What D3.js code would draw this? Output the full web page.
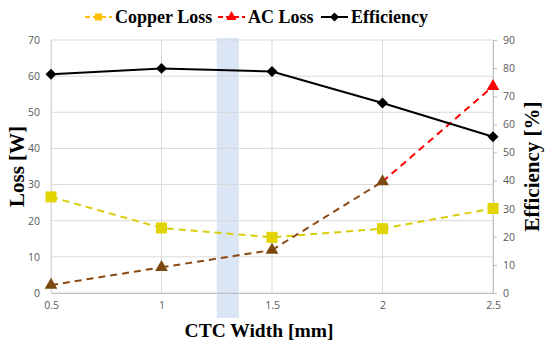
<!DOCTYPE html>
<html>
<head>
<meta charset="utf-8">
<script src="https://cdn.jsdelivr.net/npm/d3@7"></script>
<style>
  body { margin: 0; background: #fff; }
  svg { display: block; }
</style>
</head>
<body>
<svg id="chart"></svg>
<script>
// data
const widths = [0.5, 1, 1.5, 2, 2.5];
const copperLoss = [26.6, 18.0, 15.4, 17.8, 23.4];
const acLoss = [2.2, 7.1, 11.9, 30.8, 57.2];
const efficiency = [77.8, 79.9, 78.8, 67.6, 55.6];
const lossTicks = [0, 10, 20, 30, 40, 50, 60, 70];
const effTicks = [0, 10, 20, 30, 40, 50, 60, 70, 80, 90];
const xTicks = [0.5, 1, 1.5, 2, 2.5];
const band = [1.25, 1.35];

const W = 550, H = 348;
const margin = { top: 40, right: 57, bottom: 55, left: 51 };
const width = W - margin.left - margin.right;
const height = H - margin.top - margin.bottom;

const svg = d3.select("#chart").attr("width", W).attr("height", H);
const g = svg.append("g").attr("transform", `translate(${margin.left},${margin.top})`);

const x = d3.scaleLinear().domain([0.5, 2.5]).range([0, width]);
const yL = d3.scaleLinear().domain([0, 70]).range([height, 0]);
const yR = d3.scaleLinear().domain([0, 90]).range([height, 0]);

// highlighted band
g.append("rect")
    .attr("x", x(band[0]))
    .attr("y", -2)
    .attr("width", x(band[1]) - x(band[0]))
    .attr("height", height + 27)
    .attr("fill", "#dae5f6");

// grid
g.append("g")
    .selectAll("line")
    .data(lossTicks)
    .join("line")
    .attr("x1", 0).attr("x2", width)
    .attr("y1", d => yL(d)).attr("y2", d => yL(d))
    .attr("stroke", "#d9d9d9");

g.append("g")
    .selectAll("line")
    .data(xTicks)
    .join("line")
    .attr("x1", d => x(d)).attr("x2", d => x(d))
    .attr("y1", 0).attr("y2", height)
    .attr("stroke", "#d9d9d9");

// axes
const tickFont = "'Open Sans', 'DejaVu Sans', sans-serif";

const xAxis = g.append("g")
    .attr("transform", `translate(0,${height})`)
    .call(d3.axisBottom(x).tickValues(xTicks).tickSize(0).tickPadding(9).tickFormat(d3.format("")));

const leftAxis = g.append("g")
    .call(d3.axisLeft(yL).tickValues(lossTicks).tickSize(0).tickPadding(11));

const rightAxis = g.append("g")
    .attr("transform", `translate(${width},0)`)
    .call(d3.axisRight(yR).tickValues(effTicks).tickSize(4).tickPadding(6));

[xAxis, leftAxis, rightAxis].forEach(a => {
    a.select(".domain").attr("stroke", "#bfbfbf");
    a.selectAll(".tick line").attr("stroke", "#bfbfbf");
    a.selectAll("text")
        .attr("fill", "#595959")
        .style("font-family", tickFont)
        .style("font-size", "10.5px");
});
leftAxis.select(".domain").attr("stroke", "#d9d9d9");

// lines
const lineL = d3.line().x((d, i) => x(widths[i])).y(d => yL(d));
const lineR = d3.line().x((d, i) => x(widths[i])).y(d => yR(d));

const copperColor = "#d8cf0a";
const acBrown = "#8b4a14";
const acRed = "#ff0000";

g.append("path")
    .datum(copperLoss)
    .attr("d", lineL)
    .attr("fill", "none")
    .attr("stroke", copperColor)
    .attr("stroke-width", 2)
    .attr("stroke-dasharray", "7,5");

// AC loss: brown up to 2 mm, red after
const acSegs = acLoss.slice(0, -1).map((d, i) => ({ a: i, b: i + 1 }));
g.append("g")
    .selectAll("line")
    .data(acSegs)
    .join("line")
    .attr("x1", d => x(widths[d.a])).attr("y1", d => yL(acLoss[d.a]))
    .attr("x2", d => x(widths[d.b])).attr("y2", d => yL(acLoss[d.b]))
    .attr("stroke", d => d.b === acLoss.length - 1 ? acRed : acBrown)
    .attr("stroke-width", 2)
    .attr("stroke-dasharray", "7,5");

g.append("path")
    .datum(efficiency)
    .attr("d", lineR)
    .attr("fill", "none")
    .attr("stroke", "#000")
    .attr("stroke-width", 2);

// markers
g.append("g")
    .selectAll("rect")
    .data(copperLoss)
    .join("rect")
    .attr("x", (d, i) => x(widths[i]) - 5.5)
    .attr("y", d => yL(d) - 5.5)
    .attr("width", 11).attr("height", 11)
    .attr("fill", "#e2d400");

g.append("g")
    .selectAll("path")
    .data(acLoss)
    .join("path")
    .attr("transform", (d, i) => `translate(${x(widths[i])},${yL(d)})`)
    .attr("d", d3.symbol(d3.symbolTriangle, 70))
    .attr("fill", (d, i) => i === acLoss.length - 1 ? acRed : "#7a4a10");

g.append("g")
    .selectAll("path")
    .data(efficiency)
    .join("path")
    .attr("transform", (d, i) => `translate(${x(widths[i])},${yR(d)}) rotate(45)`)
    .attr("d", d3.symbol(d3.symbolSquare, 60))
    .attr("fill", "#000");

// axis titles
const titleFont = "'Liberation Serif', 'Times New Roman', serif";

svg.append("text")
    .attr("x", 259)
    .attr("y", 337)
    .attr("text-anchor", "middle")
    .style("font-family", titleFont)
    .style("font-weight", "bold")
    .style("font-size", "19.5px")
    .text("CTC Width [mm]");

svg.append("text")
    .attr("transform", `translate(24,${margin.top + height / 2}) rotate(-90)`)
    .attr("text-anchor", "middle")
    .style("font-family", titleFont)
    .style("font-weight", "bold")
    .style("font-size", "21px")
    .text("Loss [W]");

svg.append("text")
    .attr("transform", `translate(539,${margin.top + height / 2}) rotate(-90)`)
    .attr("text-anchor", "middle")
    .style("font-family", titleFont)
    .style("font-weight", "bold")
    .style("font-size", "21px")
    .text("Efficiency [%]");

// legend
const legendItems = [
    { name: "Copper Loss", color: "#ffc000", marker: "square", dash: "5,3", x: 85 },
    { name: "AC Loss", color: "#ff0000", marker: "triangle", dash: "5,3", x: 218 },
    { name: "Efficiency", color: "#000", marker: "diamond", dash: null, x: 321 }
];

const legend = svg.append("g");
const li = legend.selectAll("g")
    .data(legendItems)
    .join("g")
    .attr("transform", d => `translate(${d.x},17)`);

li.append("line")
    .attr("x1", 0).attr("x2", 27)
    .attr("stroke", d => d.color)
    .attr("stroke-width", 2)
    .attr("stroke-dasharray", d => d.dash);

li.append("path")
    .attr("transform", d => `translate(13.5,0)` + (d.marker === "diamond" ? " rotate(45)" : ""))
    .attr("d", d => d.marker === "triangle"
        ? d3.symbol(d3.symbolTriangle, 45)()
        : d3.symbol(d3.symbolSquare, d.marker === "diamond" ? 40 : 50)())
    .attr("fill", d => d.color);

li.append("text")
    .attr("x", 30)
    .attr("y", 6)
    .style("font-family", titleFont)
    .style("font-weight", "bold")
    .style("font-size", "18px")
    .text(d => d.name);
</script>
</body>
</html>
